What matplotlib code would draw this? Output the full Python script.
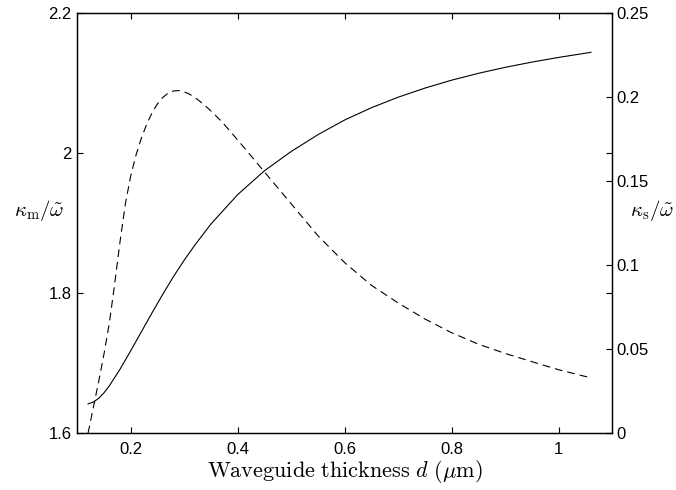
import matplotlib
matplotlib.use("Agg")
import matplotlib.pyplot as plt

plt.rcParams['font.family'] = ['Liberation Sans', 'DejaVu Sans']
plt.rcParams['mathtext.fontset'] = 'cm'

# Data
d_m = [0.12, 0.13, 0.14, 0.15, 0.16, 0.18, 0.20, 0.22, 0.24, 0.26, 0.28, 0.30,
       0.32, 0.35, 0.40, 0.45, 0.50, 0.55, 0.60, 0.65, 0.70, 0.75, 0.80, 0.85,
       0.90, 0.95, 1.00, 1.06]
kappa_m = [1.642, 1.6447, 1.650, 1.658, 1.668, 1.6918, 1.7182, 1.7454, 1.7726,
           1.799, 1.8242, 1.8476, 1.8692, 1.8992, 1.9412, 1.9752, 2.0027, 2.0267,
           2.0477, 2.0652, 2.0802, 2.0932, 2.1045, 2.1143, 2.1228, 2.1303, 2.137,
           2.1442]

d_s = [0.12, 0.13, 0.14, 0.15, 0.16, 0.17, 0.18, 0.19, 0.20, 0.21, 0.22, 0.23,
       0.24, 0.25, 0.26, 0.27, 0.28, 0.29, 0.30, 0.31, 0.32, 0.33, 0.34, 0.35,
       0.37, 0.40, 0.45, 0.50, 0.55, 0.60, 0.65, 0.70, 0.75, 0.80, 0.85, 0.90,
       0.95, 1.00, 1.06]
kappa_s = [0.0, 0.0155, 0.031, 0.0475, 0.066, 0.0895, 0.1145, 0.137, 0.1535,
           0.166, 0.176, 0.1842, 0.191, 0.1962, 0.200, 0.2025, 0.2038, 0.2040,
           0.2032, 0.2018, 0.1998, 0.1974, 0.1947, 0.1918, 0.1855, 0.1745,
           0.1555, 0.1365, 0.1175, 0.1015, 0.088, 0.0775, 0.068, 0.0598, 0.0530,
           0.0475, 0.0426, 0.0378, 0.0330]

x_ticks = [0.2, 0.4, 0.6, 0.8, 1.0]
x_ticklabels = ['0.2', '0.4', '0.6', '0.8', '1']
yl_ticks = [1.6, 1.8, 2.0, 2.2]
yl_ticklabels = ['1.6', '1.8', '2', '2.2']
yr_ticks = [0, 0.05, 0.1, 0.15, 0.2, 0.25]
yr_ticklabels = ['0', '0.05', '0.1', '0.15', '0.2', '0.25']

fig = plt.figure(figsize=(6.76, 4.90), dpi=100)
ax = fig.add_axes([0.1144, 0.1157, 0.9058 - 0.1144, 0.9729 - 0.1157])
ax2 = ax.twinx()

ax.plot(d_m, kappa_m, color='black', lw=0.8)
ax2.plot(d_s, kappa_s, color='black', lw=0.8, dashes=(7, 4.5))

ax.set_xlim(0.1, 1.1)
ax.set_ylim(1.6, 2.2)
ax2.set_ylim(0, 0.25)

ax.set_xticks(x_ticks)
ax.set_xticklabels(x_ticklabels)
ax.set_yticks(yl_ticks)
ax.set_yticklabels(yl_ticklabels)
ax2.set_yticks(yr_ticks)
ax2.set_yticklabels(yr_ticklabels)

ax.tick_params(axis='x', direction='in', top=True, length=4, width=0.8,
               labelsize=12, pad=6)
ax.tick_params(axis='y', direction='in', left=True, right=True, labelright=False,
               length=4, width=0.8, labelsize=12, pad=4)
ax2.tick_params(axis='y', direction='in', length=4, width=0.8, labelsize=12, pad=3)

for a in (ax, ax2):
    for s in a.spines.values():
        s.set_linewidth(0.9)

ax.set_xlabel(r'$\mathrm{Waveguide\ thickness}\ d\ (\mu\mathrm{m})$', fontsize=16, labelpad=1)
ax.set_ylabel(r'$\kappa_\mathrm{m}/\tilde{\omega}$', fontsize=15, rotation=0,
              va='center', ha='center')
ax.yaxis.set_label_coords(-0.0716, 0.53)
ax2.set_ylabel(r'$\kappa_\mathrm{s}/\tilde{\omega}$', fontsize=15, rotation=0,
               va='center', ha='center')
ax2.yaxis.set_label_coords(1.074, 0.53)

fig.savefig('out.png', dpi=100)
